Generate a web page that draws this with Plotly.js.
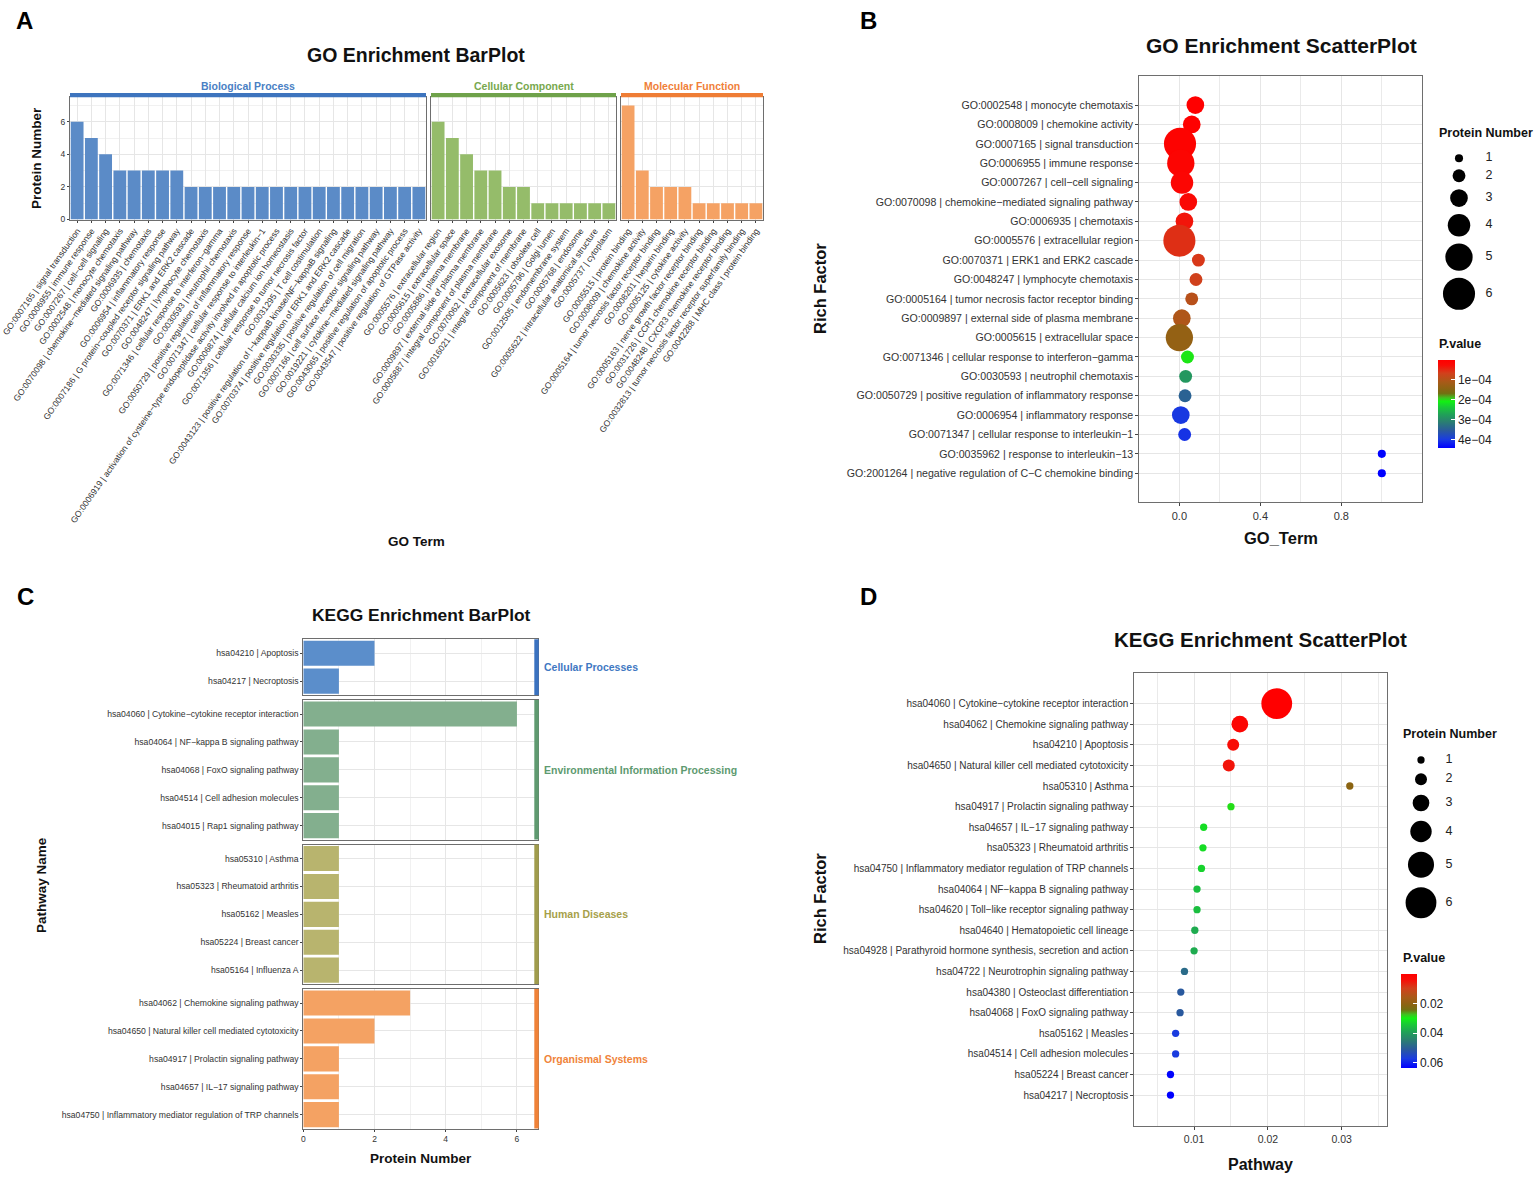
<!DOCTYPE html>
<html>
<head>
<meta charset="utf-8">
<script src="https://cdn.plot.ly/plotly-3.0.1.min.js"></script>
<style>
  html, body { margin: 0; padding: 0; background: #ffffff; }
  #chart { width: 1535px; height: 1177px; }
</style>
</head>
<body>
<div id="chart"></div>
<script>
// ================= DATA =================
// Panel A: GO Enrichment BarPlot
const bpTerms = [
  "GO:0007165 | signal transduction",
  "GO:0006955 | immune response",
  "GO:0007267 | cell\u2212cell signaling",
  "GO:0002548 | monocyte chemotaxis",
  "GO:0070098 | chemokine\u2212mediated signaling pathway",
  "GO:0006935 | chemotaxis",
  "GO:0006954 | inflammatory response",
  "GO:0007186 | G protein\u2212coupled receptor signaling pathway",
  "GO:0070371 | ERK1 and ERK2 cascade",
  "GO:0048247 | lymphocyte chemotaxis",
  "GO:0071346 | cellular response to interferon\u2212gamma",
  "GO:0030593 | neutrophil chemotaxis",
  "GO:0050729 | positive regulation of inflammatory response",
  "GO:0071347 | cellular response to interleukin\u22121",
  "GO:0006919 | activation of cysteine\u2212type endopeptidase activity involved in apoptotic process",
  "GO:0006874 | cellular calcium ion homeostasis",
  "GO:0071356 | cellular response to tumor necrosis factor",
  "GO:0031295 | T cell costimulation",
  "GO:0043123 | positive regulation of I\u2212kappaB kinase/NF\u2212kappaB signaling",
  "GO:0070374 | positive regulation of ERK1 and ERK2 cascade",
  "GO:0030335 | positive regulation of cell migration",
  "GO:0007166 | cell surface receptor signaling pathway",
  "GO:0019221 | cytokine\u2212mediated signaling pathway",
  "GO:0043065 | positive regulation of apoptotic process",
  "GO:0043547 | positive regulation of GTPase activity"
];
const bpCounts = [6,5,4,3,3,3,3,3,2,2,2,2,2,2,2,2,2,2,2,2,2,2,2,2,2];

const ccTerms = [
  "GO:0005576 | extracellular region",
  "GO:0005615 | extracellular space",
  "GO:0005886 | plasma membrane",
  "GO:0009897 | external side of plasma membrane",
  "GO:0005887 | integral component of plasma membrane",
  "GO:0070062 | extracellular exosome",
  "GO:0016021 | integral component of membrane",
  "GO:0005623 | obsolete cell",
  "GO:0005796 | Golgi lumen",
  "GO:0012505 | endomembrane system",
  "GO:0005768 | endosome",
  "GO:0005622 | intracellular anatomical structure",
  "GO:0005737 | cytoplasm"
];
const ccCounts = [6,5,4,3,3,2,2,1,1,1,1,1,1];

const mfTerms = [
  "GO:0005515 | protein binding",
  "GO:0008009 | chemokine activity",
  "GO:0005164 | tumor necrosis factor receptor binding",
  "GO:0008201 | heparin binding",
  "GO:0005125 | cytokine activity",
  "GO:0005163 | nerve growth factor receptor binding",
  "GO:0031726 | CCR1 chemokine receptor binding",
  "GO:0048248 | CXCR3 chemokine receptor binding",
  "GO:0032813 | tumor necrosis factor receptor superfamily binding",
  "GO:0042288 | MHC class I protein binding"
];
const mfCounts = [7,3,2,2,2,1,1,1,1,1];

const goCategoryNames = ["Biological Process", "Cellular Component", "Molecular Function"];

// Panel B: GO Enrichment ScatterPlot
const goScatterTerms = [
  "GO:0002548 | monocyte chemotaxis",
  "GO:0008009 | chemokine activity",
  "GO:0007165 | signal transduction",
  "GO:0006955 | immune response",
  "GO:0007267 | cell\u2212cell signaling",
  "GO:0070098 | chemokine\u2212mediated signaling pathway",
  "GO:0006935 | chemotaxis",
  "GO:0005576 | extracellular region",
  "GO:0070371 | ERK1 and ERK2 cascade",
  "GO:0048247 | lymphocyte chemotaxis",
  "GO:0005164 | tumor necrosis factor receptor binding",
  "GO:0009897 | external side of plasma membrane",
  "GO:0005615 | extracellular space",
  "GO:0071346 | cellular response to interferon\u2212gamma",
  "GO:0030593 | neutrophil chemotaxis",
  "GO:0050729 | positive regulation of inflammatory response",
  "GO:0006954 | inflammatory response",
  "GO:0071347 | cellular response to interleukin\u22121",
  "GO:0035962 | response to interleukin\u221213",
  "GO:2001264 | negative regulation of C\u2212C chemokine binding"
];
const goRichFactor = [0.079,0.061,0.003,0.007,0.013,0.044,0.025,0.0,0.094,0.082,0.061,0.012,0.0,0.040,0.031,0.028,0.007,0.026,1.0,1.0];
const goProteinNumber = [3,3,6,5,4,3,3,6,2,2,2,3,5,2,2,2,3,2,1,1];
const goPValue = [2e-6,5e-6,8e-6,1.2e-5,1.5e-5,2.2e-5,3.5e-5,5.5e-5,6.2e-5,7e-5,9.5e-5,1.05e-4,1.35e-4,2.05e-4,2.85e-4,3.45e-4,4.0e-4,4.05e-4,4.4e-4,4.42e-4];
const goPTicks = [1e-4, 2e-4, 3e-4, 4e-4];
const goPTickText = ["1e\u221204", "2e\u221204", "3e\u221204", "4e\u221204"];

// Panel C: KEGG Enrichment BarPlot
const keggClassNames = ["Cellular Processes", "Environmental Information Processing", "Human Diseases", "Organismal Systems"];
const keggCellularTerms = ["hsa04210 | Apoptosis", "hsa04217 | Necroptosis"];
const keggCellularCounts = [2,1];
const keggEnvTerms = [
  "hsa04060 | Cytokine\u2212cytokine receptor interaction",
  "hsa04064 | NF\u2212kappa B signaling pathway",
  "hsa04068 | FoxO signaling pathway",
  "hsa04514 | Cell adhesion molecules",
  "hsa04015 | Rap1 signaling pathway"
];
const keggEnvCounts = [6,1,1,1,1];
const keggDiseaseTerms = [
  "hsa05310 | Asthma",
  "hsa05323 | Rheumatoid arthritis",
  "hsa05162 | Measles",
  "hsa05224 | Breast cancer",
  "hsa05164 | Influenza A"
];
const keggDiseaseCounts = [1,1,1,1,1];
const keggOrgTerms = [
  "hsa04062 | Chemokine signaling pathway",
  "hsa04650 | Natural killer cell mediated cytotoxicity",
  "hsa04917 | Prolactin signaling pathway",
  "hsa04657 | IL\u221217 signaling pathway",
  "hsa04750 | Inflammatory mediator regulation of TRP channels"
];
const keggOrgCounts = [3,2,1,1,1];

// Panel D: KEGG Enrichment ScatterPlot
const keggScatterTerms = [
  "hsa04060 | Cytokine\u2212cytokine receptor interaction",
  "hsa04062 | Chemokine signaling pathway",
  "hsa04210 | Apoptosis",
  "hsa04650 | Natural killer cell mediated cytotoxicity",
  "hsa05310 | Asthma",
  "hsa04917 | Prolactin signaling pathway",
  "hsa04657 | IL\u221217 signaling pathway",
  "hsa05323 | Rheumatoid arthritis",
  "hsa04750 | Inflammatory mediator regulation of TRP channels",
  "hsa04064 | NF\u2212kappa B signaling pathway",
  "hsa04620 | Toll\u2212like receptor signaling pathway",
  "hsa04640 | Hematopoietic cell lineage",
  "hsa04928 | Parathyroid hormone synthesis, secretion and action",
  "hsa04722 | Neurotrophin signaling pathway",
  "hsa04380 | Osteoclast differentiation",
  "hsa04068 | FoxO signaling pathway",
  "hsa05162 | Measles",
  "hsa04514 | Cell adhesion molecules",
  "hsa05224 | Breast cancer",
  "hsa04217 | Necroptosis"
];
const keggRichFactor = [0.0212,0.0162,0.0153,0.0147,0.0311,0.0150,0.0113,0.0112,0.0110,0.0104,0.0104,0.0101,0.0100,0.0087,0.0082,0.0081,0.0075,0.0075,0.0068,0.0068];
const keggProteinNumber = [6,3,2,2,1,1,1,1,1,1,1,1,1,1,1,1,1,1,1,1];
const keggPValue = [0.0003,0.002,0.004,0.005,0.021,0.029,0.032,0.032,0.033,0.0355,0.0355,0.038,0.038,0.048,0.051,0.051,0.057,0.057,0.063,0.0634];
const keggPTicks = [0.02, 0.04, 0.06];
const keggPTickText = ["0.02", "0.04", "0.06"];

const sizeLegendValues = [1,2,3,4,5,6];

// ================= LAYOUT HELPERS =================
const W = 1535, H = 1177;
const FONT = "Liberation Sans, Arial, Helvetica, sans-serif";
const fx = p => p / W;
const fy = p => 1 - p / H;
const dX = (a, b) => [fx(a), fx(b)];
const dY = (top, bottom) => [fy(bottom), fy(top)];
const GRID = "#E6E6E6", MINOR = "#F1F1F1", BORDER = "#6E6E6E";

function axis(extra) {
  return Object.assign({
    showline: true, mirror: true, linecolor: BORDER, linewidth: 1,
    showgrid: true, gridcolor: GRID, gridwidth: 1,
    zeroline: false, ticks: "outside", ticklen: 3, tickcolor: "#444", tickwidth: 1,
    tickfont: { family: FONT, size: 11, color: "#333" },
    fixedrange: true, automargin: false
  }, extra);
}

// color scale: t = 0 (smallest p, red) ... 1 (largest p, blue)
const pStops = [[0,"#FF0000"],[0.06,"#F80C06"],[0.15,"#D2401C"],[0.25,"#A85A18"],[0.33,"#8A6412"],[0.38,"#727012"],[0.43,"#40C020"],[0.47,"#12F012"],[0.53,"#18CC34"],[0.62,"#20A058"],[0.7,"#2A8070"],[0.8,"#2A5A9C"],[0.9,"#1A3CE0"],[1,"#0000FF"]];
const pColorscale = pStops.map(([t, c]) => [1 - t, c]).reverse();

const traces = [];
const shapes = [];
const annotations = [];
const layout = {
  width: W, height: H, margin: { l: 0, r: 0, t: 0, b: 0 },
  paper_bgcolor: "#ffffff", plot_bgcolor: "#ffffff",
  showlegend: false, font: { family: FONT, color: "#222" },
  hovermode: false
};

function ann(text, xpx, ypx, opts) {
  annotations.push(Object.assign({
    text: text, x: fx(xpx), y: fy(ypx), xref: "paper", yref: "paper",
    showarrow: false, xanchor: "center", yanchor: "middle",
    font: { family: FONT, size: 12, color: "#111" }
  }, opts || {}));
}
const bold = s => "<b>" + s + "</b>";

// ================= PANEL A =================
const goFacets = [
  { terms: bpTerms, counts: bpCounts, x0: 70, x1: 426, fill: "#5B8BC7", strip: "#3D74BE", text: "#4A7FC4" },
  { terms: ccTerms, counts: ccCounts, x0: 431, x1: 616, fill: "#95BC6A", strip: "#6FA24A", text: "#78A84E" },
  { terms: mfTerms, counts: mfCounts, x0: 621, x1: 763, fill: "#F5A264", strip: "#EF7D35", text: "#F07F3A" }
];
const aTop = 97.3, aBottom = 219.5;
goFacets.forEach((f, i) => {
  const xs = i === 0 ? "" : String(i + 1);
  traces.push({
    type: "bar", x: f.terms, y: f.counts, xaxis: "x" + xs, yaxis: "y" + xs,
    width: 0.9, marker: { color: f.fill, line: { width: 0 } }
  });
  layout["xaxis" + xs] = axis({
    type: "category", domain: dX(f.x0, f.x1), anchor: "y" + xs,
    range: [-0.5, f.terms.length - 0.5], tickmode: "linear", tick0: 0, dtick: 1,
    tickangle: -55, ticklen: 2, tickfont: { family: FONT, size: 8.6, color: "#333" }
  });
  layout["yaxis" + xs] = axis({
    domain: dY(aTop, aBottom), anchor: "x" + xs, range: [0, 7.5],
    tickmode: "linear", tick0: 0, dtick: 2, ticklen: 2,
    minor: { dtick: 1, showgrid: true, gridcolor: MINOR, gridwidth: 1 },
    tickfont: { family: FONT, size: 8.5, color: "#333" },
    showticklabels: i === 0, ticks: i === 0 ? "outside" : ""
  });
  shapes.push({
    type: "rect", xref: "x" + xs + " domain", x0: 0, x1: 1, yref: "paper",
    y0: fy(aTop), y1: fy(aTop - 4.2), fillcolor: f.strip, line: { width: 0 }, layer: "above"
  });
  ann(bold(goCategoryNames[i]), (f.x0 + f.x1) / 2, 85.5, { font: { family: FONT, size: 10.5, color: f.text } });
});
ann(bold("GO Enrichment BarPlot"), 416, 55, { font: { family: FONT, size: 19.5, color: "#111" } });
ann(bold("Protein Number"), 36, 158, { textangle: -90, font: { family: FONT, size: 13.5, color: "#111" } });
ann(bold("GO Term"), 416, 541.5, { font: { family: FONT, size: 13.5, color: "#111" } });

// ================= PANEL B =================
const goPmin = Math.min(...goPValue), goPmax = Math.max(...goPValue);
traces.push({
  type: "scatter", mode: "markers", x: goRichFactor, y: goScatterTerms,
  xaxis: "x4", yaxis: "y4",
  marker: {
    size: goProteinNumber.map(n => 3.3 + 4.8 * n),
    color: goPValue.map(p => -p), coloraxis: "coloraxis",
    line: { width: 0 }, opacity: 1
  }
});
layout.xaxis4 = axis({
  domain: dX(1139.3, 1421.7), anchor: "y4", range: [-0.198, 1.197],
  tickmode: "linear", tick0: 0, dtick: 0.4, tickformat: ".1f",
  minor: { dtick: 0.2, showgrid: true, gridcolor: "#EAEAEA", gridwidth: 1 },
  tickfont: { family: FONT, size: 11, color: "#333" }
});
layout.yaxis4 = axis({
  type: "category", domain: dY(76, 502.3), anchor: "x4",
  range: [goScatterTerms.length - 1 + 1.5, -1.5], tickmode: "linear", tick0: 0, dtick: 1,
  tickfont: { family: FONT, size: 10.6, color: "#333" }
});
layout.coloraxis = {
  cmin: -goPmax, cmax: -goPmin, colorscale: pColorscale, showscale: true,
  colorbar: {
    x: fx(1438.3), xanchor: "left", y: fy(360), yanchor: "top",
    lenmode: "pixels", len: 88, thickness: 17, thicknessmode: "pixels",
    xpad: 0, ypad: 0, outlinewidth: 0,
    tickmode: "array", tickvals: goPTicks.map(v => -v), ticktext: goPTickText,
    ticks: "inside", tickcolor: "#ffffff", ticklen: 4, tickwidth: 1,
    tickfont: { family: FONT, size: 12, color: "#222" }
  }
};
ann(bold("GO Enrichment ScatterPlot"), 1281, 45, { font: { family: FONT, size: 21, color: "#111" } });
ann(bold("GO_Term"), 1281, 538, { font: { family: FONT, size: 16.5, color: "#111" } });
ann(bold("Rich Factor"), 820, 289, { textangle: -90, font: { family: FONT, size: 16.5, color: "#111" } });

// size legend helper
function stackPositions(diams, start, gap) {
  const out = []; let y = start;
  diams.forEach((d, i) => { if (i > 0) y += (diams[i - 1] + d) / 2 + gap; out.push(y); });
  return out;
}
function sizeLegend(id, box, markerX, labelX, startY, gap, diamFn, titleX, titleY) {
  const diams = sizeLegendValues.map(diamFn);
  const ys = stackPositions(diams, startY, gap);
  traces.push({
    type: "scatter", mode: "markers", xaxis: "x" + id, yaxis: "y" + id,
    x: sizeLegendValues.map(() => markerX), y: ys,
    marker: { size: diams, color: "#000000", opacity: 1, line: { width: 0 } }
  });
  traces.push({
    type: "scatter", mode: "text", xaxis: "x" + id, yaxis: "y" + id,
    x: sizeLegendValues.map(() => labelX), y: ys, text: sizeLegendValues.map(String),
    textposition: "middle center", textfont: { family: FONT, size: 12.5, color: "#222" }
  });
  layout["xaxis" + id] = { visible: false, domain: dX(box[0], box[1]), range: [box[0], box[1]], anchor: "y" + id, fixedrange: true };
  layout["yaxis" + id] = { visible: false, domain: dY(box[2], box[3]), range: [box[3], box[2]], anchor: "x" + id, fixedrange: true };
  ann(bold("Protein Number"), titleX, titleY, { xanchor: "left", font: { family: FONT, size: 12.5, color: "#111" } });
}
sizeLegend("10", [1430, 1530, 145, 320], 1459, 1489, 158.3, 7, n => 3.3 + 4.8 * n, 1437, 133);
ann(bold("P.value"), 1437, 343.5, { xanchor: "left", font: { family: FONT, size: 12.5, color: "#111" } });

// ================= PANEL C =================
const keggFacets = [
  { terms: keggCellularTerms, counts: keggCellularCounts, fill: "#5B8ECB", strip: "#3A72C0", text: "#3F78C2" },
  { terms: keggEnvTerms, counts: keggEnvCounts, fill: "#83AF8E", strip: "#5F9A70", text: "#5E9A70" },
  { terms: keggDiseaseTerms, counts: keggDiseaseCounts, fill: "#B8B46E", strip: "#A09C4C", text: "#A6A04A" },
  { terms: keggOrgTerms, counts: keggOrgCounts, fill: "#F4A263", strip: "#F08238", text: "#F0843A" }
];
const cLeft = 303.3, cRight = 538.3, cRow = 27.9, cGap = 5;
let cY = 639.3;
keggFacets.forEach((f, i) => {
  const id = String(5 + i);
  const top = cY, bottom = cY + f.terms.length * cRow;
  cY = bottom + cGap;
  const last = i === keggFacets.length - 1;
  traces.push({
    type: "bar", orientation: "h", x: f.counts, y: f.terms, xaxis: "x" + id, yaxis: "y" + id,
    width: 0.9, marker: { color: f.fill, line: { width: 0 } }
  });
  layout["xaxis" + id] = axis({
    domain: dX(cLeft, cRight), anchor: "y" + id, range: [0, 6.6],
    tickmode: "linear", tick0: 0, dtick: 2, ticklen: 2,
    minor: { dtick: 1, showgrid: true, gridcolor: MINOR, gridwidth: 1 },
    showticklabels: last, ticks: last ? "outside" : "",
    tickfont: { family: FONT, size: 8.5, color: "#333" }
  });
  layout["yaxis" + id] = axis({
    type: "category", domain: dY(top, bottom), anchor: "x" + id,
    range: [f.terms.length - 0.5, -0.5], tickmode: "linear", tick0: 0, dtick: 1,
    ticklen: 2, tickfont: { family: FONT, size: 8.65, color: "#333" }
  });
  shapes.push({
    type: "rect", xref: "paper", x0: fx(cRight - 4), x1: fx(cRight + 0.5),
    yref: "y" + id + " domain", y0: 0, y1: 1, fillcolor: f.strip, line: { width: 0 }, layer: "above"
  });
  ann(bold(keggClassNames[i]), 542, (top + bottom) / 2, { xanchor: "left", font: { family: FONT, size: 10.5, color: f.text } });
});
ann(bold("KEGG Enrichment BarPlot"), 421, 615, { font: { family: FONT, size: 17.4, color: "#111" } });
ann(bold("Protein Number"), 421, 1158.5, { font: { family: FONT, size: 13.5, color: "#111" } });
ann(bold("Pathway Name"), 41, 885, { textangle: -90, font: { family: FONT, size: 13.5, color: "#111" } });

// ================= PANEL D =================
const kPmin = Math.min(...keggPValue), kPmax = Math.max(...keggPValue);
traces.push({
  type: "scatter", mode: "markers", x: keggRichFactor, y: keggScatterTerms,
  xaxis: "x9", yaxis: "y9",
  marker: {
    size: keggProteinNumber.map(n => 2.6 + 4.7 * n),
    color: keggPValue.map(p => -p), coloraxis: "coloraxis2",
    line: { width: 0 }, opacity: 1
  }
});
layout.xaxis9 = axis({
  domain: dX(1134.3, 1386.7), anchor: "y9", range: [0.0019, 0.0361],
  tickmode: "linear", tick0: 0, dtick: 0.01, tickformat: ".2f",
  minor: { dtick: 0.005, showgrid: true, gridcolor: "#EAEAEA", gridwidth: 1 },
  tickfont: { family: FONT, size: 10.5, color: "#333" }
});
layout.yaxis9 = axis({
  type: "category", domain: dY(672.7, 1126), anchor: "x9",
  range: [keggScatterTerms.length - 1 + 1.5, -1.5], tickmode: "linear", tick0: 0, dtick: 1,
  tickfont: { family: FONT, size: 10, color: "#333" }
});
layout.coloraxis2 = {
  cmin: -kPmax, cmax: -kPmin, colorscale: pColorscale, showscale: true,
  colorbar: {
    x: fx(1401.3), xanchor: "left", y: fy(974), yanchor: "top",
    lenmode: "pixels", len: 94, thickness: 16, thicknessmode: "pixels",
    xpad: 0, ypad: 0, outlinewidth: 0,
    tickmode: "array", tickvals: keggPTicks.map(v => -v), ticktext: keggPTickText,
    ticks: "inside", tickcolor: "#ffffff", ticklen: 4, tickwidth: 1,
    tickfont: { family: FONT, size: 12, color: "#222" }
  }
};
ann(bold("KEGG Enrichment ScatterPlot"), 1260, 639, { font: { family: FONT, size: 20.5, color: "#111" } });
ann(bold("Pathway"), 1260, 1164, { font: { family: FONT, size: 16, color: "#111" } });
ann(bold("Rich Factor"), 820, 899, { textangle: -90, font: { family: FONT, size: 16.5, color: "#111" } });
sizeLegend("11", [1395, 1500, 748, 930], 1421, 1449, 760, 9.5, n => 2.6 + 4.7 * n, 1401, 734);
ann(bold("P.value"), 1401, 957.5, { xanchor: "left", font: { family: FONT, size: 12.5, color: "#111" } });

// ================= PANEL LETTERS =================
[["A", 24, 20], ["B", 868, 20], ["C", 25, 596], ["D", 868, 596]].forEach(([t, x, y]) => {
  ann(bold(t), x, y, { font: { family: FONT, size: 24, color: "#000" } });
});

layout.shapes = shapes;
layout.annotations = annotations;

Plotly.newPlot("chart", traces, layout, { staticPlot: true, displayModeBar: false });
</script>
</body>
</html>
